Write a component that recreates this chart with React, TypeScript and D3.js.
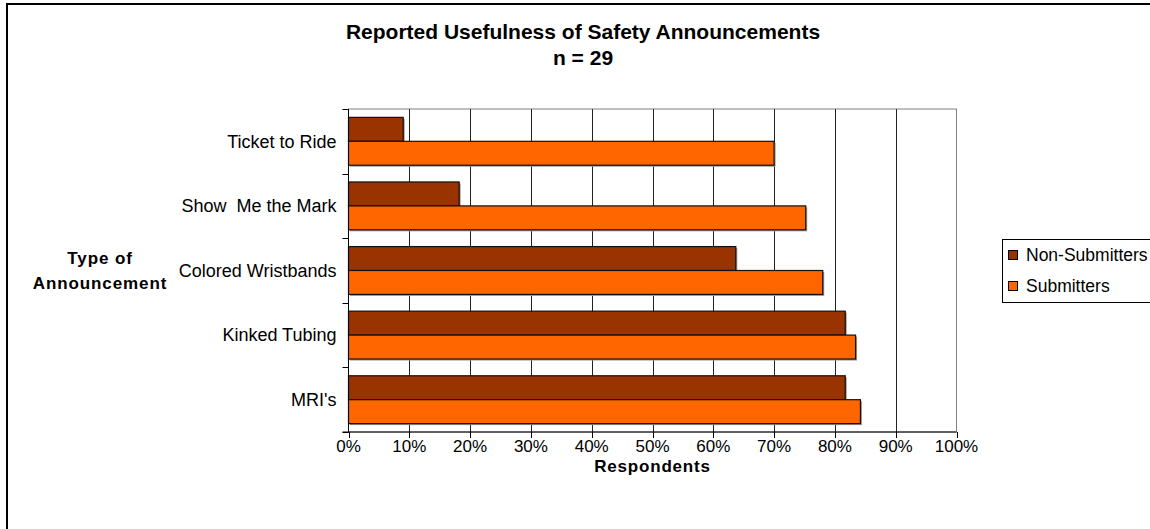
import { useEffect, useRef } from 'react';
import * as d3 from 'd3';

const categories = ['Ticket to Ride', 'Show  Me the Mark', 'Colored Wristbands', 'Kinked Tubing', "MRI's"];
const seriesNames = ['Non-Submitters', 'Submitters'];
const nonSubmitters = [9.0, 18.2, 63.7, 81.7, 81.7];
const submitters = [70.0, 75.2, 78.0, 83.4, 84.2];
const colors = ['#993300', '#FF6600'];
const xTicks = [0, 10, 20, 30, 40, 50, 60, 70, 80, 90, 100];

export default function App() {
  const svgRef = useRef<SVGSVGElement | null>(null);

  useEffect(() => {
    if (!svgRef.current) return;
    const svg = d3.select(svgRef.current);
    svg.selectAll('*').remove();

    const font = 'Arial, "Liberation Sans", sans-serif';
    const plot = { left: 348.5, right: 956.5, top: 109, bottom: 432 };

    // Chart area border
    svg.append('rect')
      .attr('x', 7).attr('y', 4)
      .attr('width', 1170).attr('height', 560)
      .attr('fill', 'white').attr('stroke', 'black').attr('stroke-width', 2);

    // Scales
    const x = d3.scaleLinear().domain([0, 100]).range([plot.left, plot.right]);
    const y = d3.scaleBand<string>().domain(categories).range([plot.top, plot.bottom]).padding(0);
    const inner = d3.scaleBand<string>().domain(seriesNames)
      .range([0, y.bandwidth()]).paddingOuter(0.35).paddingInner(0);

    // Plot border
    svg.append('rect')
      .attr('x', plot.left).attr('y', plot.top)
      .attr('width', plot.right - plot.left).attr('height', plot.bottom - plot.top)
      .attr('fill', 'white').attr('stroke', '#808080').attr('stroke-width', 1);

    // Gridlines
    svg.append('g').selectAll('line')
      .data(xTicks.slice(1, -1))
      .enter().append('line')
      .attr('x1', d => Math.round(x(d)) + 0.5).attr('x2', d => Math.round(x(d)) + 0.5)
      .attr('y1', plot.top).attr('y2', plot.bottom)
      .attr('stroke', '#222').attr('stroke-width', 1);

    // Bars (with a faint Excel-like shadow)
    const rows = categories.map((c, i) => ({ cat: c, values: [nonSubmitters[i], submitters[i]] }));
    const groups = svg.append('g').selectAll('g')
      .data(rows).enter().append('g')
      .attr('transform', d => `translate(0,${y(d.cat)})`);
    const bars = groups.selectAll('g')
      .data(d => d.values.map((v, k) => ({ name: seriesNames[k], value: v, k })))
      .enter().append('g');
    bars.append('rect')
      .attr('x', x(0) + 1.5)
      .attr('y', d => (inner(d.name) as number) + 1.5)
      .attr('width', d => x(d.value) - x(0))
      .attr('height', inner.bandwidth())
      .attr('fill', '#9a9a9a');
    bars.append('rect')
      .attr('x', x(0))
      .attr('y', d => inner(d.name) as number)
      .attr('width', d => x(d.value) - x(0))
      .attr('height', inner.bandwidth())
      .attr('fill', d => colors[d.k])
      .attr('stroke', '#111').attr('stroke-width', 1.2);

    // Y axis
    const yAxis = svg.append('g').attr('transform', `translate(${plot.left},0)`);
    yAxis.append('line')
      .attr('x1', 0).attr('x2', 0).attr('y1', plot.top).attr('y2', plot.bottom)
      .attr('stroke', 'black');
    const boundaries = categories.map(c => y(c) as number).concat([plot.bottom]);
    yAxis.selectAll('.ytick').data(boundaries).enter().append('line')
      .attr('x1', -6).attr('x2', 0)
      .attr('y1', d => Math.round(d) + 0.5).attr('y2', d => Math.round(d) + 0.5)
      .attr('stroke', 'black');
    yAxis.selectAll('.ylabel').data(categories).enter().append('text')
      .attr('x', -12)
      .attr('y', d => (y(d) as number) + y.bandwidth() / 2)
      .attr('dy', '0.35em')
      .attr('text-anchor', 'end')
      .attr('font-family', font).attr('font-size', 18)
      .attr('xml:space', 'preserve')
      .text(d => d);

    // X axis
    const xAxis = svg.append('g').attr('transform', `translate(0,${plot.bottom})`);
    xAxis.append('line')
      .attr('x1', plot.left - 6).attr('x2', plot.right).attr('y1', 0).attr('y2', 0)
      .attr('stroke', 'black');
    xAxis.selectAll('.xtick').data(xTicks).enter().append('line')
      .attr('x1', d => Math.round(x(d)) + 0.5).attr('x2', d => Math.round(x(d)) + 0.5)
      .attr('y1', 0).attr('y2', 6)
      .attr('stroke', 'black');
    xAxis.selectAll('.xlabel').data(xTicks).enter().append('text')
      .attr('x', d => x(d)).attr('y', 20)
      .attr('text-anchor', 'middle')
      .attr('font-family', font).attr('font-size', 17)
      .text(d => `${d}%`);

    // Axis titles
    svg.append('text')
      .attr('x', plot.left + (plot.right - plot.left) / 2).attr('y', 472)
      .attr('text-anchor', 'middle')
      .attr('font-family', font).attr('font-size', 17).attr('font-weight', 'bold')
      .attr('letter-spacing', 0.8)
      .text('Respondents');
    const yTitle = svg.append('text')
      .attr('text-anchor', 'middle')
      .attr('font-family', font).attr('font-size', 17).attr('font-weight', 'bold')
      .attr('letter-spacing', 0.9);
    yTitle.append('tspan').attr('x', 100).attr('y', 264).text('Type of');
    yTitle.append('tspan').attr('x', 100).attr('y', 289).text('Announcement');

    // Title
    svg.append('text')
      .attr('x', 583).attr('y', 39)
      .attr('text-anchor', 'middle')
      .attr('font-family', font).attr('font-size', 21).attr('font-weight', 'bold')
      .text('Reported Usefulness of Safety Announcements');
    svg.append('text')
      .attr('x', 583).attr('y', 65)
      .attr('text-anchor', 'middle')
      .attr('font-family', font).attr('font-size', 21).attr('font-weight', 'bold')
      .text('n = 29');

    // Legend
    const legend = svg.append('g').attr('transform', 'translate(1002,239)');
    legend.append('rect')
      .attr('x', 0.5).attr('y', 0.5).attr('width', 200).attr('height', 63)
      .attr('fill', 'white').attr('stroke', 'black').attr('stroke-width', 1);
    seriesNames.forEach((name, i) => {
      const gy = 16 + i * 31;
      legend.append('rect')
        .attr('x', 6.5).attr('y', gy - 4.5).attr('width', 9).attr('height', 9)
        .attr('fill', colors[i]).attr('stroke', 'black').attr('stroke-width', 1);
      legend.append('text')
        .attr('x', 24).attr('y', gy).attr('dy', '0.35em')
        .attr('font-family', font).attr('font-size', 17.5)
        .text(name);
    });
  }, []);

  return (
    <svg
      ref={svgRef}
      width={1150}
      height={529}
      style={{ position: 'absolute', left: 0, top: 0, background: 'white' }}
    />
  );
}
